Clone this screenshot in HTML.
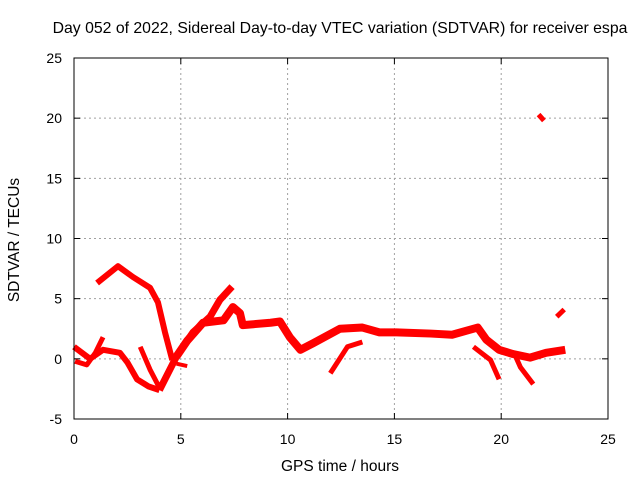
<!DOCTYPE html>
<html><head><meta charset="utf-8"><style>
body{margin:0;background:#fff;}
svg{display:block;font-family:"Liberation Sans",sans-serif;}
</style></head><body>
<svg id="chart" width="640" height="480">
<text x="340" y="33" font-size="15.8" text-anchor="middle">Day 052 of 2022, Sidereal Day-to-day VTEC variation (SDTVAR) for receiver espa</text>
<text transform="translate(19,240) rotate(-90)" font-size="15.5" text-anchor="middle">SDTVAR / TECUs</text>
<text x="340" y="471" font-size="15.5" text-anchor="middle">GPS time / hours</text>
<g id="grid"></g><g id="marks"></g><g id="axes"></g>
</svg>
<script>
const xTicks=[0,5,10,15,20,25];
const yTicks=[-5,0,5,10,15,20,25];
// traces: [hour, value] pairs
const traceHighArc=[[1.08,6.3],[2.06,7.7],[2.76,6.8],[3.56,5.9],[3.93,4.7],[4.26,2.2],[4.6,-0.1]];
const traceRise=[[4.0,-2.6],[4.8,0.2],[5.57,2.2],[6.37,3.5],[6.83,4.9],[7.4,6.0]];
const traceEarly=[[0,1.0],[0.75,0],[1.36,0.75],[2.15,0.5],[2.5,-0.3],[2.95,-1.7],[3.5,-2.3],[4.0,-2.6]];
const traceEarlyLow=[[0.05,-0.2],[0.6,-0.5],[1.0,0.5],[1.36,1.8]];
const traceDip=[[3.1,1.0],[3.56,-0.9],[4.0,-2.4]];
const traceMid=[[4.8,0.2],[5.3,1.5],[6.04,3.0],[7.0,3.2],[7.44,4.3],[7.77,3.8],[7.9,2.8],[9.2,3.0],[9.64,3.1],[10.1,1.8],[10.6,0.75],[11.2,1.3],[12.45,2.5],[13.5,2.6],[14.3,2.2],[15.1,2.2],[16.7,2.1],[17.7,2.0],[18.9,2.6],[19.3,1.6],[19.9,0.75],[20.55,0.4],[21.35,0.1],[22.1,0.5],[23.0,0.75]];
const traceSmall1=[[4.8,-0.4],[5.3,-0.6]];
const traceB2=[[12.0,-1.2],[12.8,1.0],[13.5,1.4]];
const traceB3=[[18.7,1.0],[19.5,-0.1],[19.9,-1.7]];
const traceB4=[[20.6,0.5],[20.9,-0.7],[21.5,-2.1]];
const traceIso1=[[21.75,20.3],[22.0,19.8]];
const traceIso2=[[22.6,3.5],[22.95,4.1]];
const traces=[traceHighArc,traceRise,traceEarly,traceEarlyLow,traceDip,traceMid,traceSmall1,traceB2,traceB3,traceB4,traceIso1,traceIso2];
const widths=[6,7,6,5,5,8,4,5,5,5,5,5];
const X0=74,X1=608,Y0=419,Y1=58;
const sx=h=>X0+(h-0)/(25-0)*(X1-X0);
const sy=v=>Y0-(v+5)/30*(Y0-Y1);
const ns="http://www.w3.org/2000/svg";
const grid=document.getElementById('grid'),axes=document.getElementById('axes'),marks=document.getElementById('marks');
function mk(tag,attrs,parent){const e=document.createElementNS(ns,tag);for(const k in attrs)e.setAttribute(k,attrs[k]);parent.appendChild(e);return e;}
xTicks.forEach(t=>{
  const x=sx(t);
  if(t>0&&t<25){const g=mk('line',{x1:x,x2:x,y1:Y1,y2:Y0,stroke:'#a0a0a0','stroke-dasharray':'2,3'},grid);
  
  }
  mk('line',{x1:x,x2:x,y1:Y0,y2:Y0-6,stroke:'#000'},axes);
  mk('line',{x1:x,x2:x,y1:Y1,y2:Y1+6,stroke:'#000'},axes);
  const l=mk('text',{x:x,y:Y0+25,'font-size':14,'text-anchor':'middle'},axes);
  l.textContent=t;
  
  
});
yTicks.forEach(t=>{
  const y=sy(t);
  if(t>-5&&t<25){const g=mk('line',{x1:X0,x2:X1,y1:y,y2:y,stroke:'#a0a0a0','stroke-dasharray':'2,3'},grid);
  
  }
  mk('line',{x1:X0,x2:X0+6,y1:y,y2:y,stroke:'#000'},axes);
  mk('line',{x1:X1,x2:X1-6,y1:y,y2:y,stroke:'#000'},axes);
  const l=mk('text',{x:X0-12,y:y+5,'font-size':14,'text-anchor':'end'},axes);
  l.textContent=t;
  
  
});
const box=mk('rect',{x:X0,y:Y1,width:X1-X0,height:Y0-Y1,fill:'none',stroke:'#000'},axes);


traces.forEach((tr,i)=>{
  const p=mk('polyline',{points:tr.map(d=>sx(d[0])+','+sy(d[1])).join(' '),fill:'none',stroke:'#ff0000','stroke-width':widths[i],'stroke-linejoin':'round','stroke-linecap':'butt'},marks);
  
  
});
</script>
</body></html>
